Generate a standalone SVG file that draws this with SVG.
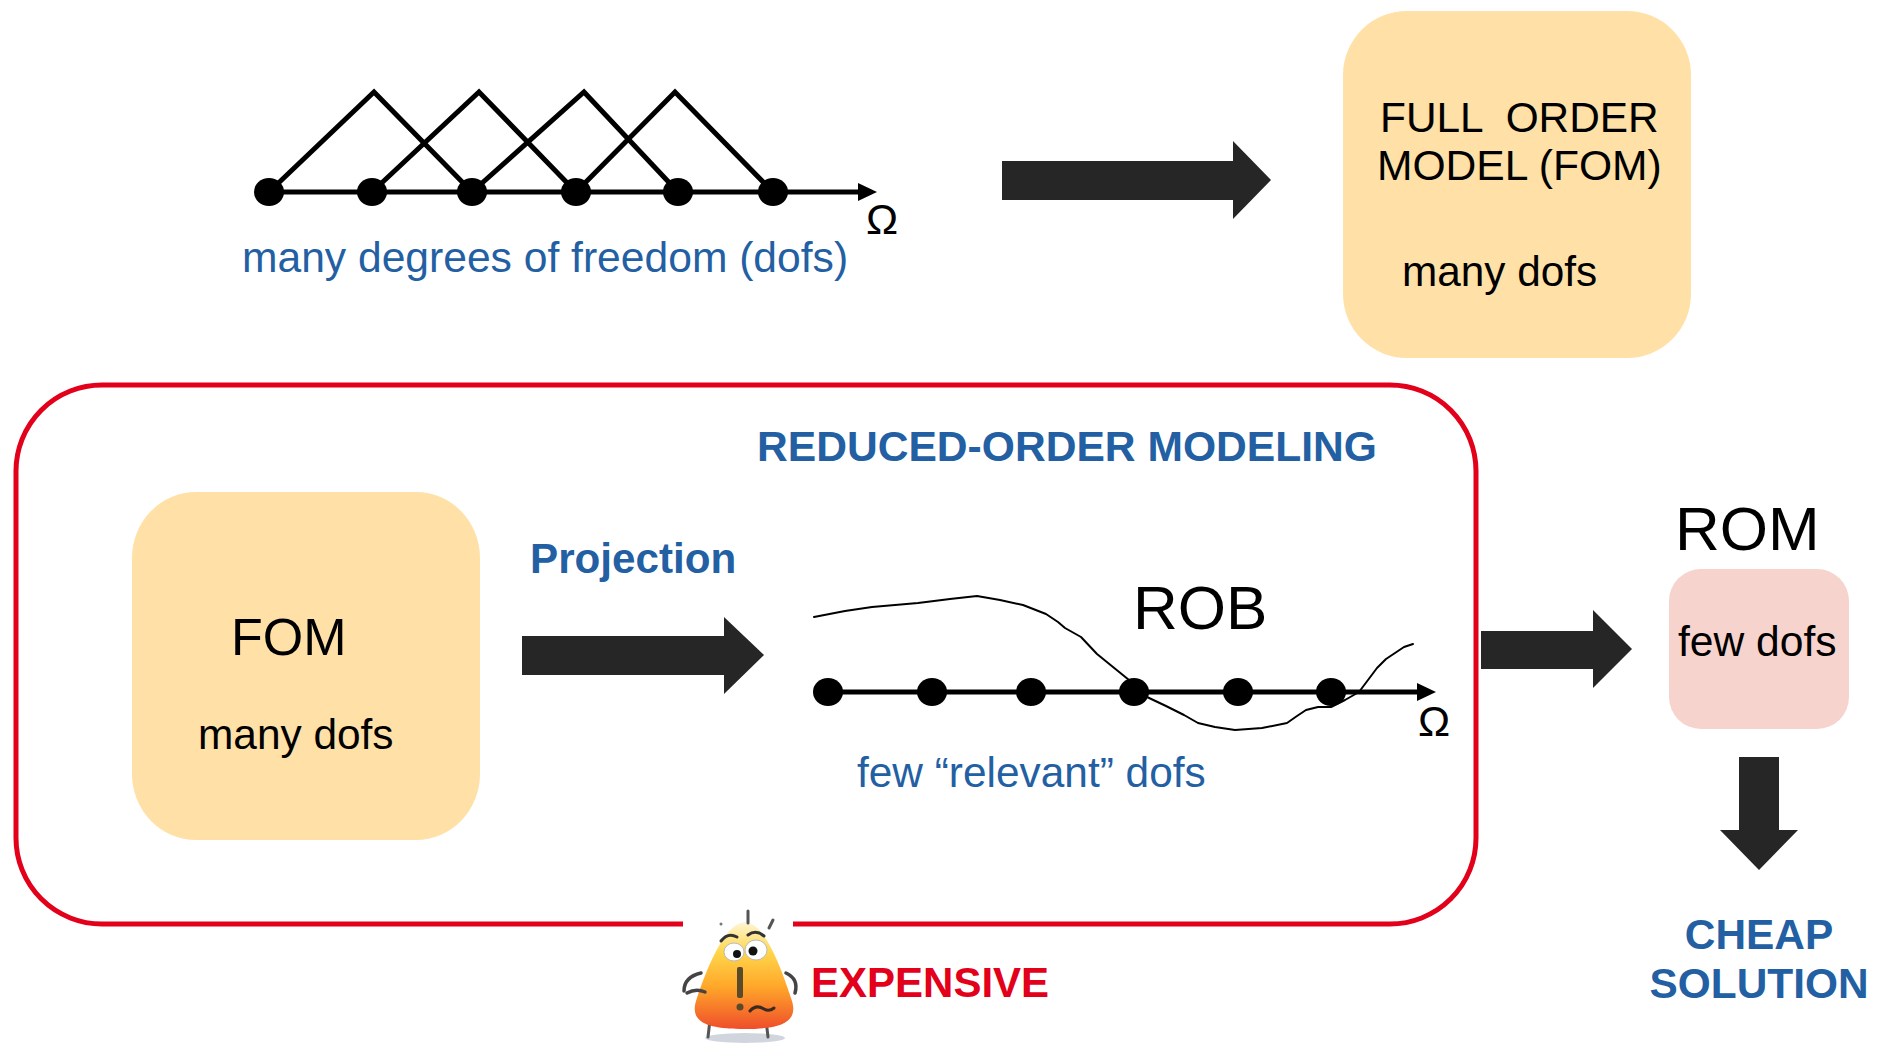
<svg xmlns="http://www.w3.org/2000/svg" width="1877" height="1046" viewBox="0 0 1877 1046">
  <defs>
    <style>
      text { font-family: "Liberation Sans", Arial, sans-serif; }
      .blk { fill: #000; }
      .blue { fill: #2360A3; }
      .red { fill: #E2001A; }
      .b { font-weight: bold; }
      .fom { fill: #FFE1A8; }
      .rom { fill: #F6D4CD; }
      .arrow { fill: #262626; }
      .axis { stroke: #000; stroke-width: 5; fill: none; }
      .hat { stroke: #000; stroke-width: 5; fill: none; stroke-linejoin: miter; }
      .dot { fill: #000; }
      .pre { white-space: pre; }
    </style>
    <linearGradient id="cornFill" x1="0" y1="0" x2="0" y2="1">
      <stop offset="0" stop-color="#FFF6D8"/>
      <stop offset="0.28" stop-color="#FFD64A"/>
      <stop offset="0.6" stop-color="#FFA82A"/>
      <stop offset="1" stop-color="#EF4E2A"/>
    </linearGradient>
  </defs>

  <rect width="1877" height="1046" fill="#fff"/>

  <!-- hat basis functions over the fine mesh -->
  <g id="fine-mesh">
    <path class="hat" d="M269 192 L374 92 L472 192"/>
    <path class="hat" d="M372 192 L479 92 L576 192"/>
    <path class="hat" d="M472 192 L584 92 L678 192"/>
    <path class="hat" d="M576 192 L675 92 L773 192"/>
    <line class="axis" x1="269" y1="192" x2="862" y2="192"/>
    <polygon class="dot" points="858,183 877,192 858,201"/>
    <ellipse class="dot" cx="269" cy="192" rx="15" ry="14"/>
    <ellipse class="dot" cx="372" cy="192" rx="15" ry="14"/>
    <ellipse class="dot" cx="472" cy="192" rx="15" ry="14"/>
    <ellipse class="dot" cx="576" cy="192" rx="15" ry="14"/>
    <ellipse class="dot" cx="678" cy="192" rx="15" ry="14"/>
    <ellipse class="dot" cx="773" cy="192" rx="15" ry="14"/>
    <text class="blk" x="866" y="234" font-size="43">Ω</text>
    <text class="blue" x="242" y="272" font-size="42.6">many degrees of freedom (dofs)</text>
  </g>

  <!-- full order model -->
  <g id="fom-top">
    <rect class="fom" x="1343" y="11" width="348" height="347" rx="64" ry="64"/>
    <text class="blk pre" x="1380" y="132" font-size="42.4">FULL  ORDER</text>
    <text class="blk" x="1377" y="180" font-size="42.6">MODEL (FOM)</text>
    <text class="blk" x="1402" y="286" font-size="42.3">many dofs</text>
  </g>

  <!-- reduced-order modeling frame, open at the bottom for the mascot -->
  <g id="rom-frame">
    <path d="M683 924 H102 A86 86 0 0 1 16 838 V471 A86 86 0 0 1 102 385 H1390 A86 86 0 0 1 1476 471 V838 A86 86 0 0 1 1390 924 H793" fill="none" stroke="#E2001A" stroke-width="5"/>
    <text class="blue b" x="757" y="461" font-size="42.6">REDUCED-ORDER MODELING</text>
  </g>

  <g id="fom-inner">
    <rect class="fom" x="132" y="492" width="348" height="348" rx="64" ry="66"/>
    <text class="blk" x="231" y="655" font-size="52">FOM</text>
    <text class="blk" x="198" y="749" font-size="42.4">many dofs</text>
  </g>

  <g id="projection-label">
    <text class="blue b" x="530" y="573" font-size="42.2">Projection</text>
  </g>

  <!-- reduced-order basis over a coarse set of dofs -->
  <g id="rob-plot">
    <text class="blk" x="1133" y="629" font-size="62">ROB</text>
    <line class="axis" x1="828" y1="692" x2="1420" y2="692"/>
    <polygon class="dot" points="1417,683 1436,692 1417,701"/>
    <polyline fill="none" stroke="#000" stroke-width="2" stroke-linejoin="round" stroke-linecap="round"
      points="814,617 845,611 872,607 918,603 950,599 977,596 1000,600 1023,605 1046,614 1058,622 1065,628 1081,637 1097,654 1113,667 1129,680 1147,697 1166,706 1184,715 1198,723 1215,727 1235,730 1262,728 1287,723 1297,716 1306,710 1318,707 1331,707 1345,700 1359,692 1368,680 1377,668 1386,659 1395,653 1404,647 1413,644"/>
    <ellipse class="dot" cx="828" cy="692" rx="15" ry="14"/>
    <ellipse class="dot" cx="932" cy="692" rx="15" ry="14"/>
    <ellipse class="dot" cx="1031" cy="692" rx="15" ry="14"/>
    <ellipse class="dot" cx="1134" cy="692" rx="15" ry="14"/>
    <ellipse class="dot" cx="1238" cy="692" rx="15" ry="14"/>
    <ellipse class="dot" cx="1331" cy="692" rx="15" ry="14"/>
    <text class="blk" x="1418" y="736" font-size="43">Ω</text>
    <text class="blue" x="857" y="787" font-size="42.4">few “relevant” dofs</text>
  </g>

  <g id="rom-box">
    <text class="blk" x="1675" y="550" font-size="62">ROM</text>
    <rect class="rom" x="1669" y="569" width="180" height="160" rx="32" ry="32"/>
    <text class="blk" x="1678" y="656" font-size="42.6">few dofs</text>
  </g>

  <g id="cheap-solution">
    <text class="blue b" x="1759" y="949" font-size="42.4" text-anchor="middle">CHEAP</text>
    <text class="blue b" x="1759" y="998" font-size="42.4" text-anchor="middle">SOLUTION</text>
  </g>

  <!-- worried candy-corn mascot -->
  <g id="mascot">
    <ellipse cx="745" cy="1038" rx="40" ry="5" fill="#C9CFD8" opacity="0.85"/>
    <line x1="710" y1="1020" x2="708" y2="1037" stroke="#555" stroke-width="3" stroke-linecap="round"/>
    <line x1="766" y1="1020" x2="768" y2="1037" stroke="#555" stroke-width="3" stroke-linecap="round"/>
    <path d="M745 922 C762 922 778 958 791 998 C800 1022 782 1029 745 1029 C706 1029 688 1022 697 998 C710 958 728 922 745 922 Z" fill="url(#cornFill)"/>
    <path d="M701 973 Q684 977 684 991" fill="none" stroke="#444" stroke-width="3.5" stroke-linecap="round"/>
    <path d="M687 993 Q696 988 705 992" fill="none" stroke="#444" stroke-width="3.5" stroke-linecap="round"/>
    <path d="M786 973 Q799 979 795 993" fill="none" stroke="#444" stroke-width="3.5" stroke-linecap="round"/>
    <path d="M721 941 Q728 932 737 937" fill="none" stroke="#333" stroke-width="3" stroke-linecap="round"/>
    <path d="M748 935 Q756 929 764 936" fill="none" stroke="#333" stroke-width="3" stroke-linecap="round"/>
    <ellipse cx="734" cy="952" rx="10" ry="9" fill="#fff" stroke="#bbb" stroke-width="1"/>
    <ellipse cx="756" cy="950" rx="11" ry="10" fill="#fff" stroke="#bbb" stroke-width="1"/>
    <circle cx="737" cy="954" r="4" fill="#111"/>
    <circle cx="753" cy="951" r="4.5" fill="#111"/>
    <rect x="737" y="967" width="6" height="31" rx="2" fill="#5A4A2A"/>
    <circle cx="740" cy="1007" r="3.5" fill="#5A4A2A"/>
    <path d="M750 1011 q6 -7 14 -2 q5 3 10 -1" fill="none" stroke="#3A2A20" stroke-width="3" stroke-linecap="round"/>
    <line x1="748" y1="911" x2="748" y2="923" stroke="#555" stroke-width="3" stroke-linecap="round"/>
    <line x1="773" y1="920" x2="769" y2="928" stroke="#555" stroke-width="3" stroke-linecap="round"/>
    <circle cx="721" cy="924" r="1.5" fill="#777"/>
  </g>

  <g id="expensive-label">
    <text class="red b" x="811" y="997" font-size="42">EXPENSIVE</text>
  </g>

  <!-- block arrows between stages -->
  <g id="connectors">
    <polygon class="arrow" points="1002,161 1233,161 1233,141 1271,180 1233,219 1233,200 1002,200"/>
    <polygon class="arrow" points="522,636 724,636 724,617 764,655 724,694 724,675 522,675"/>
    <polygon class="arrow" points="1481,631 1593,631 1593,610 1632,649 1593,688 1593,669 1481,669"/>
    <polygon class="arrow" points="1739,757 1779,757 1779,830 1798,830 1759,870 1720,830 1739,830"/>
  </g>
</svg>
